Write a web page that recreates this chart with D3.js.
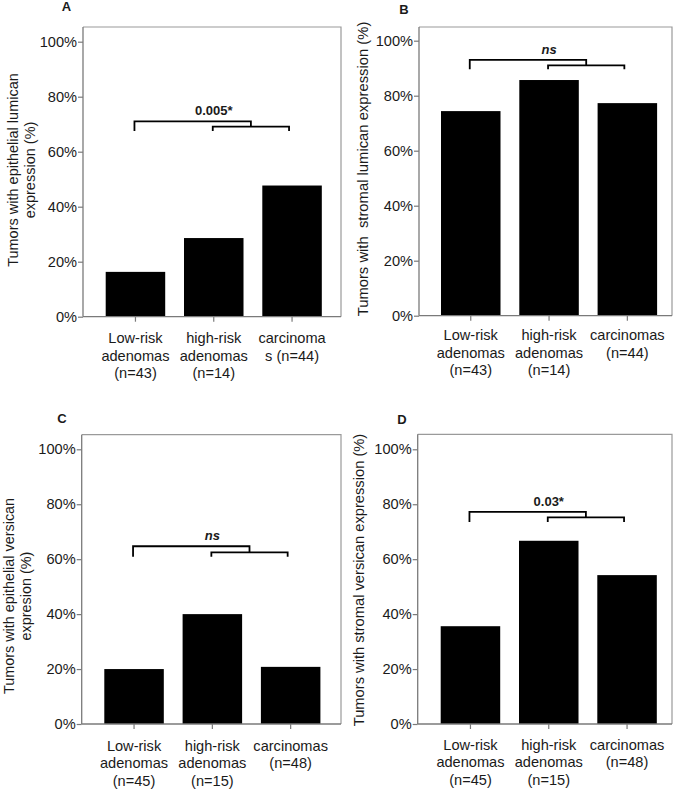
<!DOCTYPE html>
<html>
<head>
<meta charset="utf-8">
<script src="https://cdn.jsdelivr.net/npm/d3@7"></script>
<style>
  html, body { margin: 0; padding: 0; background: #fff; }
  svg { display: block; font-family: "Liberation Sans", Arial, sans-serif; }
</style>
</head>
<body>
<svg id="chart" width="681" height="790"></svg>
<script>
// ---- Data ----
const yTicks = [0, 20, 40, 60, 80, 100];
const groups = ["low", "high", "carc"];

const labelsA = [["Low-risk", "adenomas", "(n=43)"], ["high-risk", "adenomas", "(n=14)"], ["carcinoma", "s (n=44)"]];
const valuesA = [16.3, 28.6, 47.7];
const labelsB = [["Low-risk", "adenomas", "(n=43)"], ["high-risk", "adenomas", "(n=14)"], ["carcinomas", "(n=44)"]];
const valuesB = [74.4, 85.7, 77.3];
const labelsC = [["Low-risk", "adenomas", "(n=45)"], ["high-risk", "adenomas", "(n=15)"], ["carcinomas", "(n=48)"]];
const valuesC = [20.0, 40.0, 20.8];
const labelsD = [["Low-risk", "adenomas", "(n=45)"], ["high-risk", "adenomas", "(n=15)"], ["carcinomas", "(n=48)"]];
const valuesD = [35.6, 66.7, 54.2];

const yTitleA = ["Tumors with epithelial lumican", "expression (%)"];
const yTitleB = ["Tumors with\u00a0 stromal lumican expression (%)"];
const yTitleC = ["Tumors with epithelial versican", "expresion (%)"];
const yTitleD = ["Tumors with stromal versican expression (%)"];

// significance brackets: [top of long bracket, top of short bracket, leg bottom] in %
const sigA = { text: "0.005*", italic: false, levels: [71.0, 69.1, 67.5] };
const sigB = { text: "ns", italic: true, levels: [93.0, 91.0, 89.6] };
const sigC = { text: "ns", italic: true, levels: [64.7, 62.5, 60.9] };
const sigD = { text: "0.03*", italic: false, levels: [77.2, 75.2, 73.5] };

// ---- Layout (positions only) ----
const panels = [
  { letter: "A", lx: 61.7, ly: 10.7, axisX: 83, top: 27, right: 341, y0: 316.7, y100: 41.7, barLeft: 105.7,
    labels: labelsA, values: valuesA, title: yTitleA, titleX: [18, 34.5], titleY: 170, titleSize: 14.5, labOff: 26.5, sig: sigA },
  { letter: "B", lx: 399.3, ly: 14, axisX: 419, top: 27, right: 672, y0: 315.7, y100: 40.7, barLeft: 441,
    labels: labelsB, values: valuesB, title: yTitleB, titleX: [368], titleY: 169, titleSize: 14.8, labOff: 24.5, sig: sigB },
  { letter: "C", lx: 57.3, ly: 422.7, axisX: 81.7, top: 434.7, right: 341, y0: 724, y100: 449.3, barLeft: 104.3,
    labels: labelsC, values: valuesC, title: yTitleC, titleX: [13.5, 30.5], titleY: 596, titleSize: 14.4, labOff: 26.5, sig: sigC },
  { letter: "D", lx: 397.3, ly: 424, axisX: 417.7, top: 434.3, right: 672, y0: 724, y100: 449.3, barLeft: 440.7,
    labels: labelsD, values: valuesD, title: yTitleD, titleX: [364], titleY: 580, titleSize: 14.7, labOff: 25.5, sig: sigD }
];

const step = 78.3;
const fs = 14.6;
const svg = d3.select("#chart");
const axisColor = "#7a7a7a";
const frameColor = "#9a9a9a";
const textColor = "#1a1a1a";

panels.forEach(p => {
  const g = svg.append("g");
  const y = d3.scaleLinear().domain([0, 100]).range([p.y0, p.y100]);
  const padOuter = 0.12;
  const start = p.barLeft - padOuter * step;
  const x = d3.scaleBand().domain(groups).range([start, start + 3 * step])
    .paddingInner(0.24).paddingOuter(padOuter);

  // frame top & right
  g.append("path")
    .attr("d", `M${p.axisX},${p.top}H${p.right}V${p.y0}`)
    .attr("fill", "none").attr("stroke", frameColor).attr("stroke-width", 1.2);

  // bars
  g.selectAll("rect.bar").data(p.values).join("rect")
    .attr("class", "bar")
    .attr("x", (d, i) => x(groups[i]))
    .attr("width", x.bandwidth())
    .attr("y", d => y(d))
    .attr("height", d => y(0) - y(d))
    .attr("fill", "#000");

  // y axis
  const yAxis = g.append("g").attr("transform", `translate(${p.axisX},0)`)
    .call(d3.axisLeft(y).tickValues(yTicks).tickFormat(d => d + "%").tickSize(5).tickPadding(1).tickSizeOuter(0));
  yAxis.select(".domain").attr("stroke", axisColor).attr("stroke-width", 1.3)
    .attr("d", `M0,${p.top}V${p.y0}`);
  yAxis.selectAll(".tick line").attr("stroke", axisColor).attr("stroke-width", 1.2);
  yAxis.selectAll(".tick text").attr("font-size", fs).attr("fill", textColor)
    .attr("font-family", "'Liberation Sans', Arial, sans-serif");

  // x axis
  const xAxis = g.append("g").attr("transform", `translate(0,${p.y0})`)
    .call(d3.axisBottom(x).tickSize(5).tickSizeOuter(0).tickFormat(""));
  xAxis.select(".domain").attr("stroke", axisColor).attr("stroke-width", 1.3)
    .attr("d", `M${p.axisX},0H${p.right}`);
  xAxis.selectAll(".tick line").attr("stroke", axisColor).attr("stroke-width", 1.2);

  // category labels
  p.labels.forEach((lines, i) => {
    const cx = x(groups[i]) + x.bandwidth() / 2;
    const t = g.append("text").attr("text-anchor", "middle").attr("font-size", fs).attr("fill", textColor);
    lines.forEach((ln, j) => {
      t.append("tspan").attr("x", cx).attr("y", p.y0 + p.labOff + j * 17.6).text(ln);
    });
  });

  // y title
  p.title.forEach((ln, j) => {
    g.append("text")
      .attr("transform", `translate(${p.titleX[j]},${p.titleY}) rotate(-90)`)
      .attr("text-anchor", "middle").attr("font-size", p.titleSize).attr("fill", textColor)
      .text(ln);
  });

  // panel letter
  g.append("text").attr("x", p.lx).attr("y", p.ly)
    .attr("font-size", 13).attr("font-weight", "bold").attr("fill", textColor).text(p.letter);

  // significance bracket
  const c = groups.map(k => x(k) + x.bandwidth() / 2);
  const [lvLong, lvShort, lvLeg] = p.sig.levels;
  const rx0 = c[1] - 1, rx1 = c[2] - 3;
  const rmid = (rx0 + rx1) / 2;
  const lx0 = c[0] - 1;
  g.append("path")
    .attr("d", `M${lx0},${y(lvLeg)}V${y(lvLong)}H${rmid}V${y(lvShort)}`)
    .attr("fill", "none").attr("stroke", "#000").attr("stroke-width", 1.8);
  g.append("path")
    .attr("d", `M${rx0},${y(lvLeg)}V${y(lvShort)}H${rx1}V${y(lvLeg)}`)
    .attr("fill", "none").attr("stroke", "#000").attr("stroke-width", 1.8);
  g.append("text").attr("x", c[1]).attr("y", y(lvLong) - 6)
    .attr("text-anchor", "middle").attr("font-size", 13).attr("font-weight", "bold")
    .attr("font-style", p.sig.italic ? "italic" : "normal").attr("fill", textColor)
    .text(p.sig.text);
});
</script>
</body>
</html>
